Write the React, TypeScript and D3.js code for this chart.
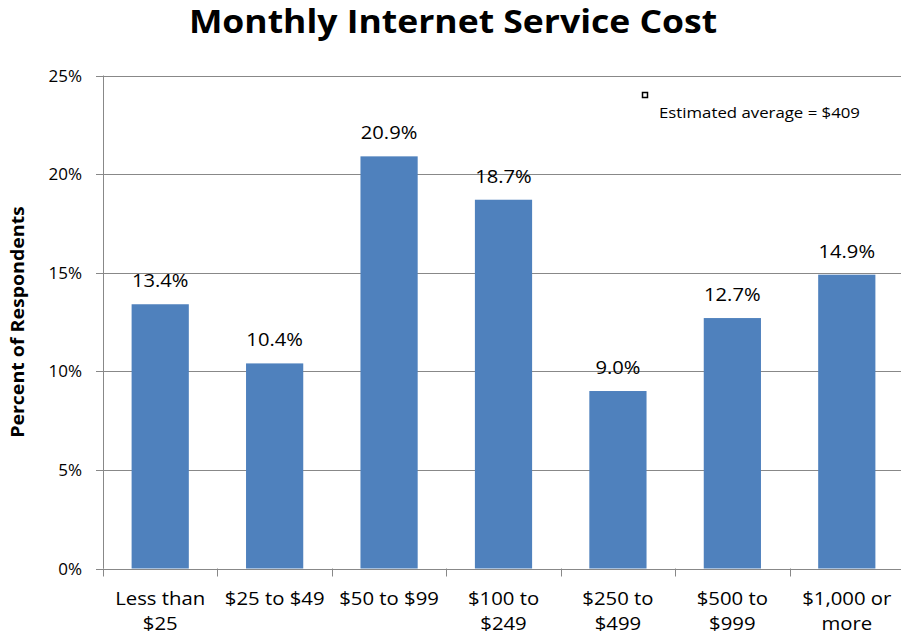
import React from "react";
import * as d3 from "d3";

const categories: string[][] = [
  ["Less than", "$25"],
  ["$25 to $49"],
  ["$50 to $99"],
  ["$100 to", "$249"],
  ["$250 to", "$499"],
  ["$500 to", "$999"],
  ["$1,000 or", "more"],
];
const values: number[] = [13.4, 10.4, 20.9, 18.7, 9.0, 12.7, 14.9];
const yTicks: number[] = [0, 5, 10, 15, 20, 25];
const title = "Monthly Internet Service Cost";
const yTitle = "Percent of Respondents";
const legendText = "Estimated average = $409";

const FONT = "'Open Sans', 'Liberation Sans', sans-serif";

export default function App() {
  const W = 901;
  const H = 636;
  const left = 103;
  const right = 904;
  const top = 75.5;
  const bottom = 568.5;
  const idx = categories.map((_, i) => String(i));
  const x = d3.scaleBand<string>().domain(idx).range([left, right]).paddingInner(0.5).paddingOuter(0.25);
  const y = d3.scaleLinear().domain([0, 25]).range([bottom, top]);
  const step = (right - left) / categories.length;
  const boundaries = d3.range(categories.length + 1).map((i) => left + i * step);
  const grid = "#888888";
  const cx = (i: number) => (x(String(i)) as number) + x.bandwidth() / 2;

  return (
    <svg width={W} height={H} style={{ position: "absolute", left: 0, top: 0, background: "#fff" }} fontFamily={FONT}>
      <g transform="translate(453,33) scale(1.11,1)">
        <text x={0} y={0} textAnchor="middle" fontSize={32} fontWeight="bold" fill="#000">{title}</text>
      </g>
      {yTicks.map((t) => (
        <g key={t}>
          <line x1={96} x2={right} y1={Math.round(y(t)) + 0.5} y2={Math.round(y(t)) + 0.5} stroke={grid} strokeWidth={1} />
          <text x={82} y={y(t) + 6} textAnchor="end" fontSize={17} fill="#000">{t}%</text>
        </g>
      ))}
      <line x1={left + 0.5} x2={left + 0.5} y1={top} y2={bottom} stroke={grid} strokeWidth={1} />
      {boundaries.map((b, i) => (
        <line key={i} x1={Math.round(b) + 0.5} x2={Math.round(b) + 0.5} y1={bottom} y2={bottom + 8} stroke={grid} strokeWidth={1} />
      ))}
      {values.map((v, i) => (
        <rect key={i} x={x(String(i))} y={y(v)} width={x.bandwidth()} height={y(0) - y(v)} fill="#4F81BD" />
      ))}
      {values.map((v, i) => (
        <g key={i} transform={`translate(${cx(i)},${y(v) - 17}) scale(1.12,1)`}>
          <text x={0} y={0} textAnchor="middle" fontSize={18} fill="#000">{v.toFixed(1)}%</text>
        </g>
      ))}
      {categories.map((lines, i) => (
        <g key={i} transform={`translate(${cx(i)},605) scale(1.13,1)`}>
          <text x={0} y={0} textAnchor="middle" fontSize={18} fill="#000">
            {lines.map((l, j) => (
              <tspan key={j} x={0} dy={j === 0 ? 0 : 25}>{l}</tspan>
            ))}
          </text>
        </g>
      ))}
      <g transform="translate(24, 322) rotate(-90) scale(1.15,1)">
        <text x={0} y={0} textAnchor="middle" fontSize={17} fontWeight="bold" fill="#000">{yTitle}</text>
      </g>
      <rect x={642.5} y={92.5} width={5} height={5} fill="#fff" stroke="#000" strokeWidth={1.5} />
      <g transform="translate(659,118) scale(1.12,1)">
        <text x={0} y={0} fontSize={15} fill="#000">{legendText}</text>
      </g>
    </svg>
  );
}
